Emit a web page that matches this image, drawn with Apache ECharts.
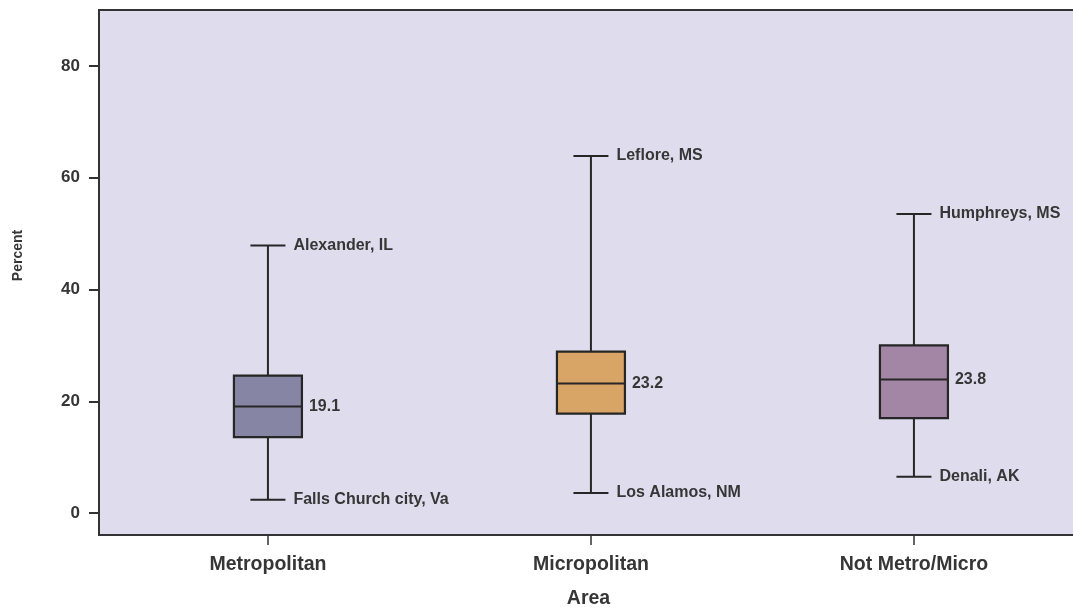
<!DOCTYPE html>
<html>
<head>
<meta charset="utf-8">
<script src="https://cdn.jsdelivr.net/npm/echarts@6/dist/echarts.min.js"></script>
<style>
html,body{margin:0;padding:0;background:#fff;overflow:hidden;}
#c{width:1073px;height:607px;}
</style>
</head>
<body>
<div id="c"></div>
<script>
// ---- data ----
var categories = ['Metropolitan', 'Micropolitan', 'Not Metro/Micro'];
var lows    = [2.4, 3.6, 6.5];
var q1s     = [13.6, 17.8, 17.0];
var medians = [19.1, 23.2, 23.9];
var q3s     = [24.6, 28.9, 30.0];
var highs   = [47.9, 63.9, 53.5];
var medianLabels = ['19.1', '23.2', '23.8'];
var highNames = ['Alexander, IL', 'Leflore, MS', 'Humphreys, MS'];
var lowNames  = ['Falls Church city, Va', 'Los Alamos, NM', 'Denali, AK'];
var yTicks = [0, 20, 40, 60, 80];
var xPositions = [1, 2, 3];

// ---- styles ----
var boxColors = ['#8686A4', '#D9A566', '#A386A6'];
var lineColor = '#262626';
var textColor = '#363636';
var font = '"Liberation Sans", Arial, sans-serif';

var data = categories.map(function (c, i) {
  return [xPositions[i], lows[i], q1s[i], medians[i], q3s[i], highs[i], i];
});

var chart = echarts.init(document.getElementById('c'), null, {renderer: 'canvas'});

function renderItem(params, api) {
  var x = api.value(0);
  var idx = api.value(6);
  var pLow = api.coord([x, api.value(1)]);
  var pQ1 = api.coord([x, api.value(2)]);
  var pMed = api.coord([x, api.value(3)]);
  var pQ3 = api.coord([x, api.value(4)]);
  var pHigh = api.coord([x, api.value(5)]);
  var cx = pMed[0];
  var bw = 34, cw = 17.5;
  var ls = {stroke: lineColor, lineWidth: 2};
  var ts = {fill: textColor, font: 'bold 16px ' + font, verticalAlign: 'middle', align: 'left'};
  return {
    type: 'group',
    children: [
      {type: 'line', shape: {x1: cx, y1: pHigh[1], x2: cx, y2: pQ3[1]}, style: ls},
      {type: 'line', shape: {x1: cx, y1: pQ1[1], x2: cx, y2: pLow[1]}, style: ls},
      {type: 'line', shape: {x1: cx - cw, y1: pHigh[1], x2: cx + cw, y2: pHigh[1]}, style: ls},
      {type: 'line', shape: {x1: cx - cw, y1: pLow[1], x2: cx + cw, y2: pLow[1]}, style: ls},
      {type: 'rect', shape: {x: cx - bw, y: pQ3[1], width: 2 * bw, height: pQ1[1] - pQ3[1]},
        style: {fill: boxColors[idx], stroke: lineColor, lineWidth: 2.2}},
      {type: 'line', shape: {x1: cx - bw, y1: pMed[1], x2: cx + bw, y2: pMed[1]}, style: ls},
      {type: 'text', x: cx + bw + 7, y: pMed[1], style: Object.assign({text: medianLabels[idx]}, ts)},
      {type: 'text', x: cx + cw + 8, y: pHigh[1], style: Object.assign({text: highNames[idx]}, ts)},
      {type: 'text', x: cx + cw + 8, y: pLow[1], style: Object.assign({text: lowNames[idx]}, ts)}
    ]
  };
}

chart.setOption({
  animation: false,
  backgroundColor: '#ffffff',
  grid: {
    left: 99, top: 10, width: 990, height: 525,
    outerBoundsMode: 'none', containLabel: false,
    show: true, backgroundColor: '#DFDDED', borderColor: '#333333', borderWidth: 2
  },
  xAxis: {
    type: 'value', min: 0.477, max: 3.542,
    splitLine: {show: false},
    axisLine: {show: true, onZero: false, lineStyle: {color: '#333333', width: 2}},
    axisTick: {show: true, customValues: xPositions, length: 10, lineStyle: {color: '#333333', width: 1.5}},
    axisLabel: {
      customValues: xPositions, margin: 20,
      formatter: function (v) { return categories[Math.round(v) - 1] || ''; },
      color: textColor, fontFamily: font, fontWeight: 'bold', fontSize: 19.5
    },
    name: 'Area', nameLocation: 'middle', nameGap: 54,
    nameTextStyle: {color: textColor, fontFamily: font, fontWeight: 'bold', fontSize: 19.5, padding: [0, 11, 0, 0]}
  },
  yAxis: {
    type: 'value', min: -3.9, max: 90,
    splitLine: {show: false},
    axisLine: {show: true, lineStyle: {color: '#333333', width: 2}},
    axisTick: {show: true, customValues: yTicks, length: 10, lineStyle: {color: '#333333', width: 2}},
    axisLabel: {
      customValues: yTicks, margin: 19,
      color: textColor, fontFamily: font, fontWeight: 'bold', fontSize: 17
    },
    name: 'Percent', nameLocation: 'middle', nameGap: 74, nameRotate: 90,
    nameTextStyle: {color: textColor, fontFamily: font, fontWeight: 'bold', fontSize: 14, padding: [0, 0, 0, 34]}
  },
  series: [{
    type: 'custom',
    renderItem: renderItem,
    encode: {x: 0, y: [1, 2, 3, 4, 5]},
    data: data,
    clip: false
  }]
});
</script>
</body>
</html>
